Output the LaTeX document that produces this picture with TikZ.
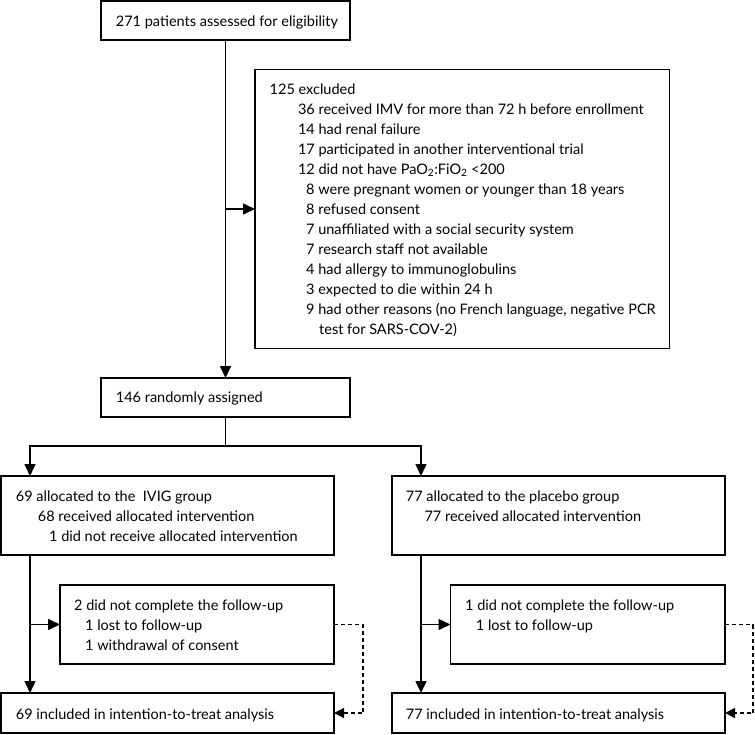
\documentclass[tikz,border=0pt]{standalone}
\usepackage{fontspec}
\setmainfont{Lato}
\usetikzlibrary{arrows.meta}

\newcommand{\boxlines}[1]{\begin{tabular}[t]{@{}l@{}}#1\end{tabular}}

\begin{document}
\begin{tikzpicture}[x=1pt, y=-1pt,
    box/.style={draw, rectangle, line width=1.5pt, anchor=north west, inner sep=0pt, outer sep=0pt},
    txt/.style={anchor=base west, inner sep=0pt, font=\fontsize{14.5}{20}\selectfont},
    flow/.style={line width=1.5pt, -{Triangle[length=12pt, width=11pt]}},
    plain/.style={line width=1.5pt},
    lost/.style={line width=1.5pt, dash pattern=on 4pt off 3pt, -{Triangle[length=10pt, width=10pt]}}]
    \useasboundingbox (0,0) rectangle (755,734);

    % Screening
    \node[box, minimum width=249pt, minimum height=39pt] (assess) at (101,1) {};
    \node[txt] (assess-t) at (115.7,26.5) {271 patients assessed for eligibility};

    % Exclusions
    \node[box, minimum width=414.5pt, minimum height=279pt] (excl) at (255,69.5) {};
    \node[txt] (excl-t) at (269.5,94.3) {\boxlines{%
        125 excluded\\
        \hspace*{28.3pt}36 received IMV for more than 72 h before enrollment\\
        \hspace*{28.3pt}14 had renal failure\\
        \hspace*{28.3pt}17 participated in another interventional trial\\
        \hspace*{28.3pt}12 did not have PaO\textsubscript{2}:FiO\textsubscript{2} <200\\
        \hspace*{36.5pt}8 were pregnant women or younger than 18 years\\
        \hspace*{36.5pt}8 refused consent\\
        \hspace*{36.5pt}7 unaffiliated with a social security system\\
        \hspace*{36.5pt}7 research staff not available\\
        \hspace*{36.5pt}4 had allergy to immunoglobulins\\
        \hspace*{36.5pt}3 expected to die within 24 h\\
        \hspace*{36.5pt}9 had other reasons (no French language, negative PCR\\
        \hspace*{49.5pt}test for SARS-COV-2)}};

    % Randomisation
    \node[box, minimum width=249pt, minimum height=39pt] (random) at (101,378) {};
    \node[txt] (random-t) at (115.7,402.7) {146 randomly assigned};

    % Allocation
    \node[box, minimum width=333pt, minimum height=79pt] (ivig) at (1,476) {};
    \node[txt] (ivig-t) at (15.7,501.7) {\boxlines{%
        69 allocated to the~ IVIG group\\
        \hspace*{22pt}68 received allocated intervention\\
        \hspace*{33.3pt}1 did not receive allocated intervention}};
    \node[box, minimum width=333pt, minimum height=79pt] (plac) at (392,476) {};
    \node[txt] (plac-t) at (405.7,501.7) {\boxlines{%
        77 allocated to the placebo group\\
        \hspace*{18.6pt}77 received allocated intervention}};

    % Follow-up
    \node[box, minimum width=274pt, minimum height=79pt] (fu1) at (60,585) {};
    \node[txt] (fu1-t) at (74,610) {\boxlines{%
        2 did not complete the follow-up\\
        \hspace*{11pt}1 lost to follow-up\\
        \hspace*{11pt}1 withdrawal of consent}};
    \node[box, minimum width=274.5pt, minimum height=79pt] (fu2) at (450.5,585) {};
    \node[txt] (fu2-t) at (465,610) {\boxlines{%
        1 did not complete the follow-up\\
        \hspace*{10.7pt}1 lost to follow-up}};

    % Analysis
    \node[box, minimum width=333pt, minimum height=40pt] (itt1) at (1,693) {};
    \node[txt] (itt1-t) at (15.7,719) {69 included in intention-to-treat analysis};
    \node[box, minimum width=333pt, minimum height=40pt] (itt2) at (392,693) {};
    \node[txt] (itt2-t) at (405.7,719) {77 included in intention-to-treat analysis};

    % Connectors
    \coordinate (lx) at (30,446);
    \coordinate (rx) at (421,446);
    \draw[flow] (assess.south) -- (random.north);
    \draw[flow] (assess.south |- excl.west) -- (excl.west);
    \draw[plain] (random.south) -- (random.south |- lx);
    \draw[flow] (random.south |- lx) -- (lx) -- (lx |- ivig.north);
    \draw[flow] (random.south |- lx) -- (rx) -- (rx |- plac.north);
    \draw[flow] (lx |- ivig.south) -- (lx |- itt1.north);
    \draw[flow] (lx |- fu1.west) -- (fu1.west);
    \draw[flow] (rx |- plac.south) -- (rx |- itt2.north);
    \draw[flow] (rx |- fu2.west) -- (fu2.west);

    % Lost to follow-up still analysed
    \draw[lost] (fu1.east) -- ++(29,0) |- (itt1.east);
    \draw[lost] (fu2.east) -- ++(28,0) |- (itt2.east);
\end{tikzpicture}
\end{document}
